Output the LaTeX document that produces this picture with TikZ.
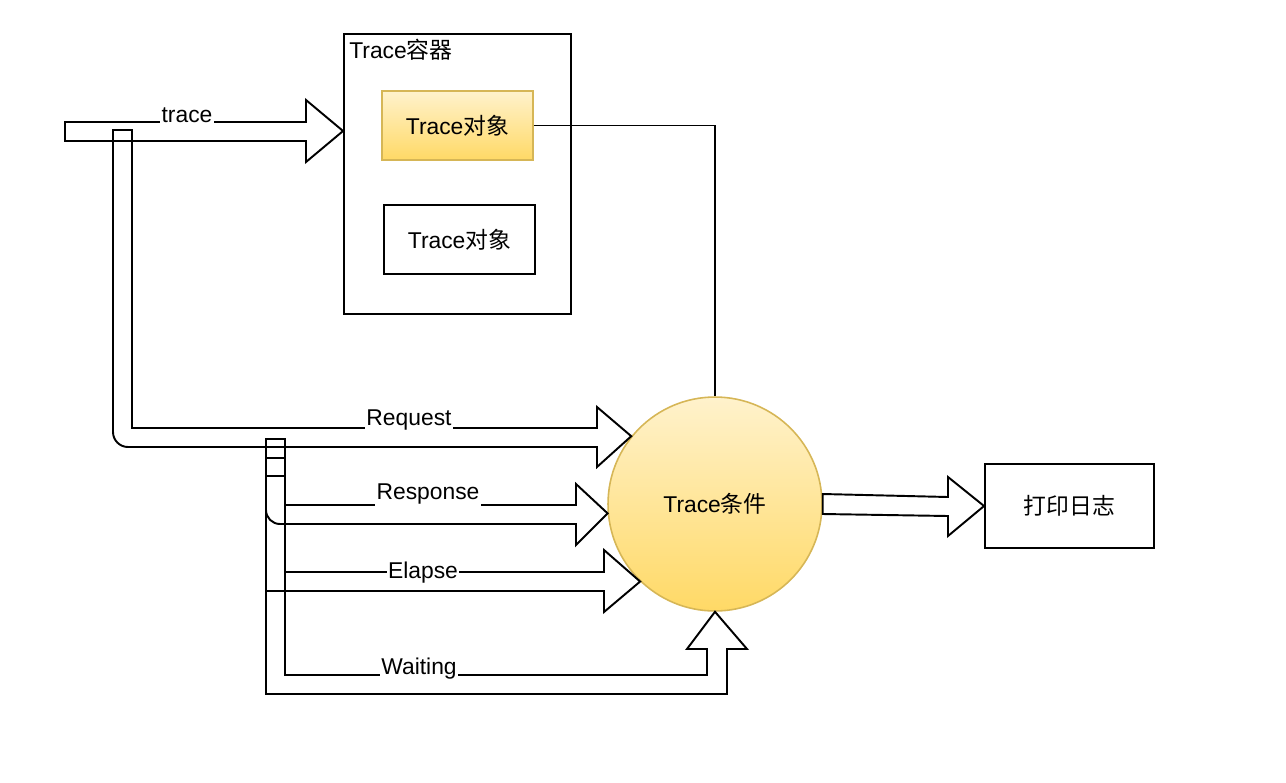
\documentclass[tikz,border=0pt]{standalone}
\usepackage{fontspec}
\setmainfont{Liberation Sans}
\newfontfamily\cjk{Noto Sans CJK SC}
\definecolor{yeltop}{HTML}{FFF2CC}
\definecolor{yelbot}{HTML}{FFD966}
\definecolor{yelline}{HTML}{D6B656}

\begin{document}
\begin{tikzpicture}[x=0.02cm,y=-0.02cm,line width=1.1pt,
  every node/.style={font=\fontsize{13}{15}\selectfont},
  box/.style={draw,rectangle,inner sep=0pt},
  yelbox/.style={draw=yelline,line width=0.9pt,top color=yeltop,bottom color=yelbot},
  flexarrow/.style={draw,line join=miter},
  lbl/.style={fill=white,inner xsep=0.8pt,inner ysep=2.5pt}]
\useasboundingbox (0,0) rectangle (1286,782);

% container with the trace objects
\node[box,minimum width=4.54cm,minimum height=5.6cm] (cont) at (457.5,174) {};
\node[anchor=north west,inner sep=3pt] (contlbl) at (cont.north west) {Trace{\cjk 容器}};
\node[box,yelbox,minimum width=3.02cm,minimum height=1.38cm] (tobj1) at (457.5,125.5) {Trace{\cjk 对象}};
\node[box,minimum width=3.02cm,minimum height=1.38cm] (tobj2) at (459.5,239.5) {Trace{\cjk 对象}};

% condition and log
\node[circle,yelbox,inner sep=0pt,minimum size=4.28cm] (cond) at (715,504) {Trace{\cjk 条件}};
\node[box,minimum width=3.38cm,minimum height=1.68cm] (log) at (1069.5,506) {{\cjk 打印日志}};
\coordinate (tracetip) at (cont.west |- 0,131);

\draw (tobj1.east) -| (cond.north);

% hollow arrows
\draw[flexarrow] (tracetip) -- (306,100) -- (306,122) -- (65,122) -- (65,141)
  -- (306,141) -- (306,162) -- cycle;
\draw[flexarrow] (cond.141) -- (597,407) -- (597,428) -- (132,428) -- (132,130)
  -- (113,130) -- (113,432) arc (180:90:15) -- (597,447) -- (597,467) -- cycle;
\draw[flexarrow] (cond.185) -- (576,484) -- (576,505) -- (285,505) -- (285,439)
  -- (266,439) -- (266,510) arc (180:90:14) -- (576,524) -- (576,545) -- cycle;
\draw[flexarrow] (cond.226) -- (604,550) -- (604,572) -- (285,572) -- (285,458)
  -- (266,458) -- (266,591) -- (604,591) -- (604,612) -- cycle;
\draw[flexarrow] (cond.south) -- (747,649) -- (727,649) -- (727,694) -- (266,694)
  -- (266,476) -- (285,476) -- (285,675) -- (707,675) -- (707,649) -- (687,649) -- cycle;
\draw[flexarrow] (log.west) -- (948,477) -- (948,497) -- (cond.east |- 0,494)
  -- (cond.east |- 0,514) -- (948,516) -- (948,536) -- cycle;

% arrow labels
\node[lbl,anchor=base] (ltrace) at (187,122) {trace};
\node[lbl,anchor=base] (lreq) at (409,425) {Request};
\node[lbl,anchor=base] (lresp) at (428,499) {Response};
\node[lbl] (lelap) at (423,573) {Elapse};
\node[lbl,anchor=base] (lwait) at (419,674) {Waiting};
\end{tikzpicture}
\end{document}
